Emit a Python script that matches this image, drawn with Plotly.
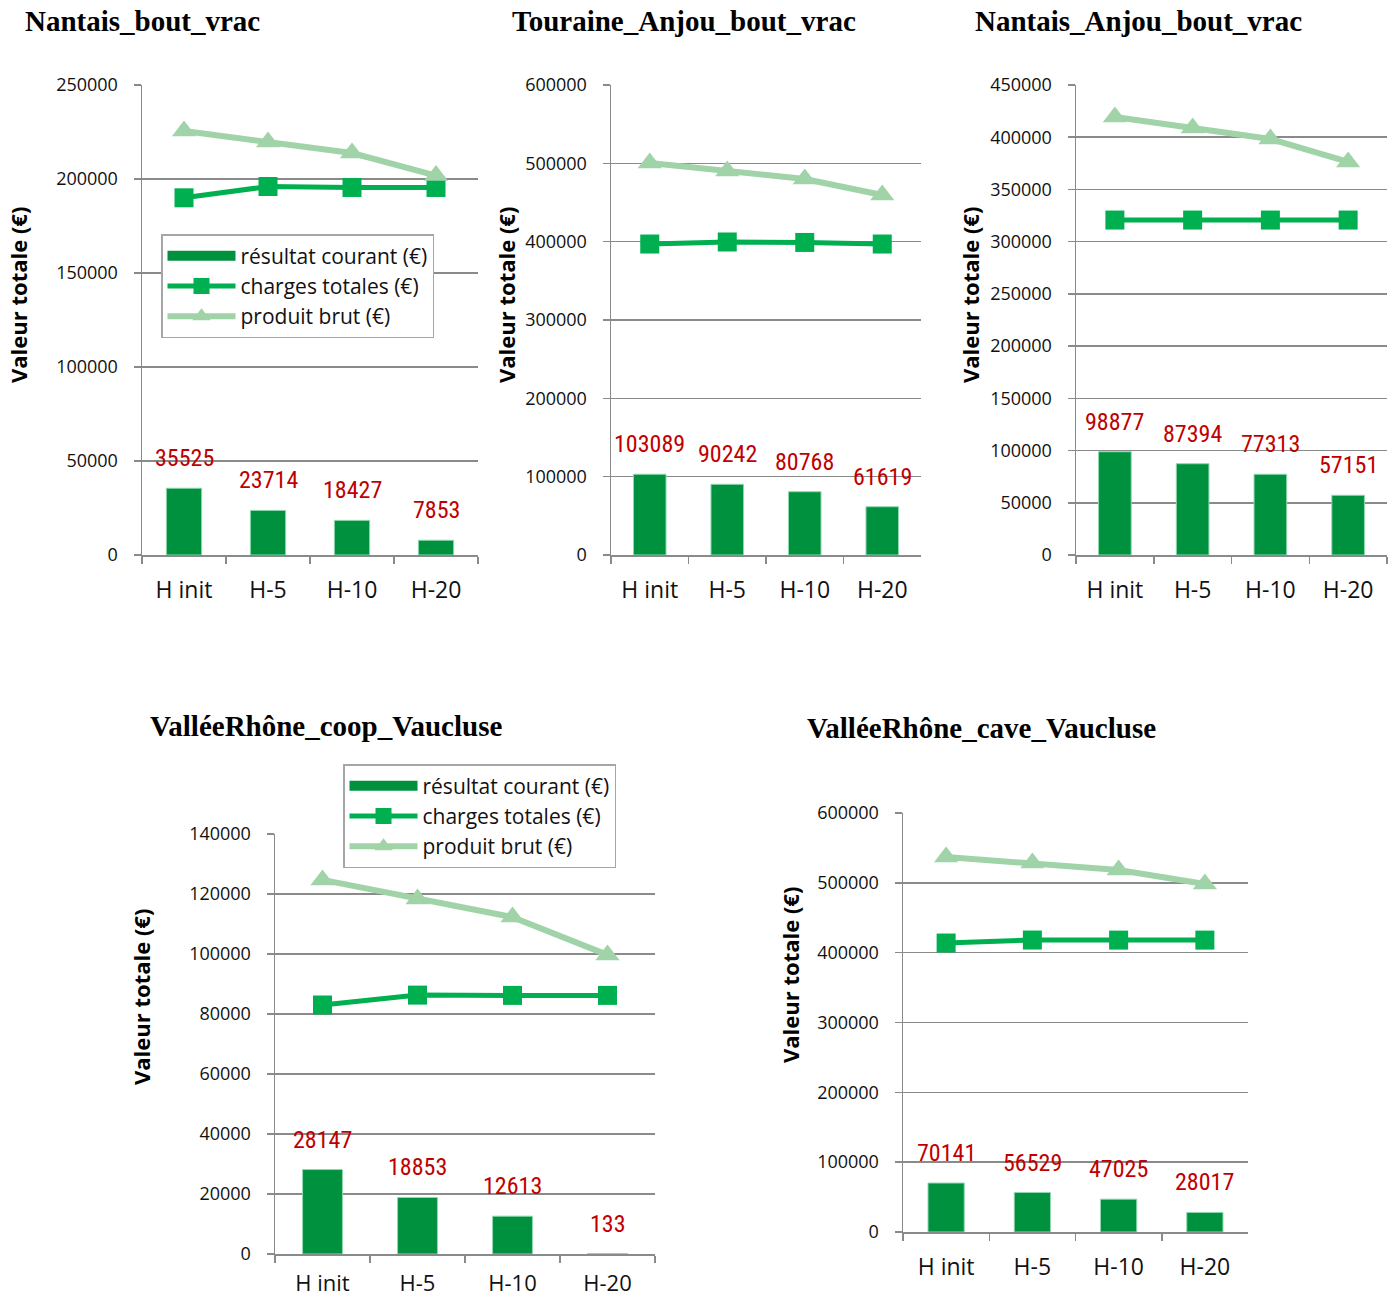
import plotly.graph_objects as go

W, H = 1393, 1299
OFF = 0  # page body margin removed by post_script below

categories = ["H init", "H-5", "H-10", "H-20"]

titles = ["Nantais_bout_vrac", "Touraine_Anjou_bout_vrac", "Nantais_Anjou_bout_vrac",
          "ValléeRhône_coop_Vaucluse", "ValléeRhône_cave_Vaucluse"]

series_names = ["résultat courant (€)", "charges totales (€)", "produit brut (€)"]

# chart 1 : Nantais_bout_vrac
nantais_resultat = [35525, 23714, 18427, 7853]
nantais_charges = [190000, 196000, 195500, 195500]
nantais_produit = [225500, 219700, 213800, 201800]

# chart 2 : Touraine_Anjou_bout_vrac
touraine_resultat = [103089, 90242, 80768, 61619]
touraine_charges = [397000, 399600, 399000, 397000]
touraine_produit = [500400, 490200, 480000, 459600]

# chart 3 : Nantais_Anjou_bout_vrac
nantais_anjou_resultat = [98877, 87394, 77313, 57151]
nantais_anjou_charges = [320700, 320700, 320700, 320700]
nantais_anjou_produit = [419400, 408800, 398300, 376300]

# chart 4 : ValléeRhône_coop_Vaucluse
coop_resultat = [28147, 18853, 12613, 133]
coop_charges = [83000, 86300, 86200, 86200]
coop_produit = [124700, 118300, 112300, 99700]

# chart 5 : ValléeRhône_cave_Vaucluse
cave_resultat = [70141, 56529, 47025, 28017]
cave_charges = [413800, 418100, 418000, 418000]
cave_produit = [537000, 528400, 518400, 498300]

y_max = [250000, 600000, 450000, 140000, 600000]
y_step = [50000, 100000, 50000, 20000, 100000]

resultats = [nantais_resultat, touraine_resultat, nantais_anjou_resultat, coop_resultat, cave_resultat]
charges = [nantais_charges, touraine_charges, nantais_anjou_charges, coop_charges, cave_charges]
produits = [nantais_produit, touraine_produit, nantais_anjou_produit, coop_produit, cave_produit]


def px(x):
    return (x - OFF) / W


def py(y):
    return 1 - (y - OFF) / H


# layout in screen pixels: (x0, x1, ytop, ybottom) of the plot areas
boxes = [(142, 478, 85, 555), (611, 921, 85, 555), (1076, 1387, 85, 555),
         (275, 655, 834, 1254), (903, 1248, 813, 1232)]
title_pos = [(23, 21), (510, 21), (973, 21), (148, 726), (805, 728)]
ytitle_pos = [(18, 295), (506, 295), (970, 295), (141, 997), (790, 975)]
xlabel_standoff = [14, 14, 14, 9, 14]
xlabel_size = [23, 23, 23, 22, 23]

BAR = "#00913F"
BAR_EDGE = "#8FD8AE"
CHG = "#00B050"
PRD = "#A0D3A8"
GRID = "#8A8A8A"
TICKFONT = "Open Sans, DejaVu Sans, sans-serif"
LABELFONT = "Noto Sans Condensed, Roboto Condensed, Liberation Sans Narrow, DejaVu Sans Condensed, Roboto, sans-serif"

fig = go.Figure()
layout = {}
annotations = []

legend_of = {0: "legend", 3: "legend2"}

for i in range(5):
    n = "" if i == 0 else str(i + 1)
    xa, ya = "x" + n, "y" + n
    leg = legend_of.get(i, "legend")
    show = i in legend_of
    fig.add_trace(go.Bar(x=categories, y=resultats[i], name=series_names[0], marker_color=BAR,
                         marker_line=dict(color=BAR_EDGE, width=1),
                         width=0.42, xaxis=xa, yaxis=ya, showlegend=False))
    # legend-only swatch for the bar series (wide rectangle like the original)
    fig.add_trace(go.Scatter(x=[None], y=[None], name=series_names[0], mode="lines",
                             line=dict(color=BAR, width=14), xaxis=xa, yaxis=ya,
                             showlegend=show, legend=leg, hoverinfo="skip"))
    fig.add_trace(go.Scatter(x=categories, y=charges[i], name=series_names[1], mode="lines+markers",
                             line=dict(color=CHG, width=5),
                             marker=dict(symbol="square", size=19, color=CHG),
                             xaxis=xa, yaxis=ya, showlegend=show, legend=leg))
    fig.add_trace(go.Scatter(x=categories, y=produits[i], name=series_names[2], mode="lines+markers",
                             line=dict(color=PRD, width=6),
                             marker=dict(symbol="triangle-up", size=21, color=PRD),
                             xaxis=xa, yaxis=ya, showlegend=show, legend=leg))

    x0, x1, yt, yb = boxes[i]
    layout["xaxis" + n] = dict(
        domain=[px(x0), px(x1)], anchor=ya, type="category", range=[-0.5, 3.5],
        showline=True, linecolor=GRID, linewidth=1.5, ticks="outside", tickson="boundaries",
        ticklen=7, tickcolor=GRID, tickwidth=1.5, showgrid=False, automargin=False,
        tickfont=dict(family=TICKFONT, size=xlabel_size[i], color="#111111"),
        ticklabelstandoff=xlabel_standoff[i], fixedrange=True)
    layout["yaxis" + n] = dict(
        domain=[py(yb), py(yt)], anchor=xa, range=[0, y_max[i]], dtick=y_step[i],
        tickformat="d", showline=True, linecolor=GRID, linewidth=1.5, showgrid=True,
        gridcolor=GRID, gridwidth=1.5, zeroline=False, ticks="outside", ticklen=7,
        tickcolor=GRID, tickwidth=1.5, automargin=False,
        tickfont=dict(family=TICKFONT, size=18, color="#111111"), ticklabelstandoff=12,
        fixedrange=True)

    for c, v in zip(categories, resultats[i]):
        annotations.append(dict(x=c, y=v, xref=xa, yref=ya, text=str(v), showarrow=False,
                                yanchor="bottom", yshift=14,
                                font=dict(family=LABELFONT, size=24, color="#C00000")))

    tx, ty = title_pos[i]
    annotations.append(dict(x=px(tx), y=py(ty), xref="paper", yref="paper", text="<b>%s</b>" % titles[i],
                            showarrow=False, xanchor="left", yanchor="middle",
                            font=dict(family="Liberation Serif, Times New Roman, serif", size=29, color="#000000")))
    yx, yy = ytitle_pos[i]
    annotations.append(dict(x=px(yx), y=py(yy), xref="paper", yref="paper", text="<b>Valeur totale (€)</b>",
                            showarrow=False, xanchor="center", yanchor="middle", textangle=-90,
                            font=dict(family=TICKFONT, size=22, color="#000000")))

legend_style = dict(bgcolor="white", bordercolor="#A6A6A6", borderwidth=1.5,
                    font=dict(family=TICKFONT, size=21, color="#111111"),
                    xanchor="left", yanchor="top", itemwidth=68, traceorder="normal")
layout["legend"] = dict(legend_style, x=px(161), y=py(234))
layout["legend2"] = dict(legend_style, x=px(343), y=py(764))

fig.update_layout(**layout)
fig.update_layout(width=W, height=H, margin=dict(l=0, r=0, t=0, b=0, autoexpand=False),
                  paper_bgcolor="white", plot_bgcolor="white",
                  annotations=annotations, bargap=0.58)

fig.write_html("out.html", config={"displayModeBar": False, "staticPlot": True},
               post_script="document.body.style.margin='0';document.body.style.overflow='hidden';")
